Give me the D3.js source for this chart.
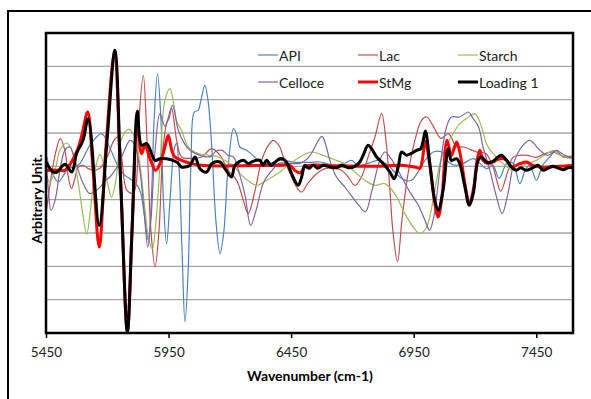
<!DOCTYPE html>
<html>
<head>
<meta charset="utf-8">
<script src="https://cdn.jsdelivr.net/npm/d3@7"></script>
<style>
  html, body { margin: 0; padding: 0; background: #fff; }
  svg { display: block; font-family: Lato, "Open Sans", sans-serif; }
</style>
</head>
<body>
<div id="chart"></div>
<script>
// x ticks (wavenumber) and y gridlines (arbitrary units)
const xTicks = [5450, 5950, 6450, 6950, 7450];
const yGrid = [-4, -3, -2, -1, 0, 1, 2, 3];

// series: [wavenumber, value]
const api = [[5450,0.38],[5466,-0.06],[5487,-0.36],[5500,-0.47],[5519,-0.3],[5540,-0.06],[5568,-0.03],[5589,0.09],[5629,0.63],[5677,0.98],[5711,0.54],[5745,-0.02],[5772,-0.27],[5801,-0.42],[5825,-0.6],[5837,-0.81],[5854,-1.62],[5867,-2.22],[5878,-1.32],[5891,1.38],[5905,2.78],[5919,1.38],[5929,-1.02],[5942,-2.32],[5956,-1.02],[5972,0.48],[5982,0.69],[5992,0.03],[6005,-2.52],[6017,-4.67],[6030,-3.12],[6042,0.18],[6055,1.63],[6071,1.68],[6082,1.98],[6098,2.43],[6111,1.98],[6127,0.48],[6143,-1.62],[6160,-2.62],[6176,-1.92],[6192,-0.12],[6215,1.13],[6229,0.93],[6241,0.58],[6268,0.48],[6294,0.33],[6323,0.13],[6363,0.09],[6404,0.18],[6469,0.12],[6527,0.12],[6567,0.13],[6629,0.03],[6669,0.09],[6697,0.18],[6722,0.03],[6763,0.09],[6805,0.18],[6846,0.03],[6877,-0.21],[6914,-0.42],[6941,-0.42],[6967,-0.18],[6996,0.18],[7030,0.43],[7064,0.43],[7092,0.13],[7122,0.03],[7153,0.09],[7193,0.23],[7220,0.09],[7247,-0.07],[7273,0.03],[7299,-0.36],[7329,0.08],[7355,0.09],[7383,-0.52],[7408,-0.06],[7424,0.03],[7451,-0.42],[7476,0.03],[7505,0.28],[7532,0.48],[7558,0.28],[7599,0.28]];

const lac = [[5450,-1.42],[5466,-0.57],[5487,0.33],[5508,0.83],[5527,0.48],[5540,-0.27],[5554,-0.67],[5568,-0.36],[5582,-0.02],[5601,0.03],[5621,-0.06],[5646,-0.12],[5670,-0.06],[5703,0.33],[5727,0.78],[5745,0.88],[5760,0.18],[5780,-0.72],[5805,-0.81],[5817,-0.57],[5829,1.38],[5847,2.73],[5862,0.78],[5878,-1.92],[5895,-3.02],[5911,-1.92],[5927,0.48],[5942,1.28],[5952,1.44],[5963,1.73],[5983,0.78],[6003,0.28],[6037,0.24],[6085,0.28],[6126,0.53],[6160,0.33],[6193,-0.12],[6228,-0.42],[6255,-1.02],[6275,-1.42],[6303,-0.72],[6330,0.18],[6357,0.63],[6377,0.78],[6404,0.58],[6418,0.28],[6445,-0.21],[6472,-0.62],[6493,-0.77],[6518,-0.51],[6554,-0.22],[6592,-0.06],[6629,-0.06],[6656,-0.12],[6683,-0.32],[6710,-0.57],[6737,-0.32],[6764,0.28],[6792,0.88],[6819,1.58],[6837,0.78],[6853,-0.72],[6865,-1.92],[6884,-2.87],[6902,-1.62],[6927,-0.22],[6955,0.78],[6982,1.38],[7003,1.48],[7028,1.23],[7061,0.84],[7092,0.98],[7125,0.58],[7153,0.58],[7207,0.43],[7245,0.38],[7274,-0.02],[7289,-0.42],[7305,-0.75],[7333,-0.18],[7355,0.27],[7383,0.33],[7414,0.33],[7448,0.27],[7485,0.38],[7519,0.43],[7558,0.3],[7599,0.24]];

const starch = [[5450,-0.22],[5466,-0.47],[5487,-0.12],[5507,0.48],[5534,0.7],[5556,0.48],[5580,-0.42],[5601,-1.47],[5616,-2.04],[5629,-1.47],[5650,-0.12],[5670,0.36],[5687,0.03],[5703,-0.57],[5717,-0.93],[5735,-0.42],[5756,0.78],[5786,1.11],[5805,0.99],[5821,0.63],[5839,-0.27],[5854,-1.32],[5870,-2.22],[5884,-2.47],[5899,-1.62],[5915,0.03],[5935,1.98],[5956,2.33],[5972,1.83],[5984,1.33],[6003,1.08],[6030,0.58],[6071,0.38],[6119,0.33],[6153,0.28],[6193,0.12],[6221,-0.03],[6241,-0.22],[6282,-0.47],[6309,-0.57],[6350,-0.42],[6404,-0.17],[6445,0.08],[6486,0.28],[6533,0.43],[6580,0.33],[6635,0.18],[6669,0.08],[6710,-0.17],[6751,-0.42],[6792,-0.57],[6832,-0.52],[6873,-0.82],[6914,-1.42],[6948,-1.82],[6975,-2.02],[7003,-1.82],[7036,-0.72],[7057,0.08],[7084,0.63],[7111,0.98],[7138,1.28],[7166,1.44],[7200,1.58],[7227,1.18],[7247,0.68],[7273,0.39],[7315,0.08],[7355,-0.12],[7395,0.03],[7451,0.18],[7492,0.38],[7526,0.48],[7558,0.28],[7599,0.33]];

const celloce = [[5450,0.18],[5460,-0.72],[5470,-1.32],[5487,-1.02],[5507,-0.12],[5527,0.48],[5547,0.58],[5568,0.18],[5602,-0.52],[5629,-0.82],[5670,-0.63],[5693,-0.42],[5711,-0.32],[5744,0.03],[5770,0.48],[5793,0.78],[5813,0.63],[5833,-0.12],[5850,-1.32],[5865,-2.42],[5878,-1.62],[5895,0.48],[5915,1.58],[5935,1.2],[5948,1.44],[5966,1.83],[5990,1.08],[6015,0.68],[6037,0.48],[6062,0.38],[6090,0.3],[6123,0.3],[6143,0.45],[6169,0.48],[6192,0.33],[6215,0.28],[6241,-0.27],[6262,-0.87],[6285,-1.77],[6307,-1.32],[6338,-0.48],[6372,-0.12],[6400,0.09],[6445,0.09],[6486,0.09],[6518,0.24],[6540,0.48],[6559,0.75],[6576,0.9],[6592,0.63],[6608,0.18],[6635,-0.32],[6669,-0.62],[6710,-1.02],[6730,-1.2],[6753,-1.37],[6780,-0.72],[6812,0.18],[6832,0.43],[6857,0.24],[6901,-0.32],[6935,-0.78],[6969,-1.17],[6996,-1.62],[7015,-1.92],[7033,-1.47],[7049,-0.57],[7061,0.18],[7084,1.18],[7104,1.48],[7138,1.48],[7173,1.63],[7192,1.44],[7215,1.18],[7233,0.58],[7261,-0.12],[7288,-0.92],[7311,-1.42],[7333,-0.87],[7362,0.18],[7396,0.63],[7424,0.78],[7465,0.48],[7497,0.33],[7532,0.48],[7566,0.33],[7599,0.28]];

const stmg = [[5450,-0.12],[5466,-0.12],[5507,-0.12],[5527,-0.12],[5575,0.43],[5596,0.93],[5620,1.63],[5642,-0.12],[5667,-2.42],[5695,0.63],[5729,3.35],[5756,-0.72],[5782,-4.97],[5801,-1.92],[5823,1.14],[5840,0.38],[5854,0.63],[5874,0.24],[5897,-0.12],[5915,0.08],[5935,0.58],[5949,0.93],[5963,0.48],[5976,0.28],[6003,0.18],[6044,0.08],[6085,0.03],[6160,0.01],[6250,0.02],[6400,0.03],[6445,0.03],[6465,-0.12],[6486,-0.2],[6506,-0.02],[6527,0.03],[6650,0.01],[6800,0],[6900,0.03],[6959,-0.03],[6975,-0.06],[6985,0.18],[6997,0.75],[7016,0.03],[7036,-1.1],[7050,-1.52],[7066,-0.87],[7086,0.78],[7104,0.33],[7125,0.73],[7138,0.43],[7159,-0.52],[7177,-1.12],[7193,-0.72],[7209,0.18],[7220,0.48],[7233,0.18],[7254,0.08],[7273,0.13],[7301,0.23],[7329,0.18],[7349,-0.02],[7383,0.08],[7410,0.13],[7436,0.03],[7465,-0.02],[7505,-0.02],[7546,0],[7599,0.03]];

const loading1 = [[5450,0.13],[5479,-0.17],[5495,-0.17],[5527,0.06],[5555,-0.17],[5575,0.39],[5601,0.78],[5622,1.43],[5667,-1.77],[5699,0.78],[5731,3.48],[5756,-0.72],[5782,-4.97],[5801,-1.92],[5823,1.65],[5840,0.63],[5861,0.68],[5895,0.18],[5915,0.23],[5942,0.23],[5983,0.13],[6003,-0.02],[6017,-0.02],[6037,0.03],[6058,0.28],[6078,-0.07],[6105,-0.17],[6126,0.08],[6160,0.13],[6180,-0.07],[6207,-0.32],[6221,0.03],[6255,0.18],[6275,0.08],[6294,0.15],[6323,0.18],[6335,0.03],[6350,0.18],[6368,0.03],[6384,0.12],[6404,0.23],[6425,0.18],[6438,0.03],[6458,-0.32],[6479,-0.57],[6493,-0.32],[6506,0.03],[6522,-0.06],[6540,0.03],[6559,-0.06],[6581,0.03],[6608,-0.02],[6635,-0.04],[6657,0.03],[6683,-0.04],[6710,0],[6730,0.13],[6744,0.33],[6764,0.63],[6778,0.53],[6799,0.28],[6826,0.08],[6853,-0.17],[6870,-0.37],[6887,-0.02],[6901,0.43],[6921,0.33],[6941,0.39],[6962,0.48],[6979,0.53],[6989,0.78],[6998,1.06],[7016,0.08],[7036,-1.02],[7050,-1.32],[7070,-0.72],[7091,0.53],[7104,0.18],[7125,0.23],[7138,0.08],[7159,-0.62],[7177,-1.17],[7193,-0.82],[7213,0.18],[7227,0.28],[7247,0.13],[7269,0.13],[7294,0.28],[7308,0.33],[7329,0.18],[7349,-0.02],[7369,-0.12],[7387,-0.04],[7407,-0.12],[7437,-0.04],[7458,0.03],[7478,-0.12],[7497,-0.06],[7519,0],[7539,-0.05],[7560,-0.1],[7580,-0.04],[7599,-0.04]];

const seriesNames = ['API', 'Lac', 'Starch', 'Celloce', 'StMg', 'Loading 1'];
const seriesData = [api, lac, starch, celloce, stmg, loading1];
const colors = ['#4F81BD', '#C0504D', '#9BBB59', '#8064A2', '#FF0000', '#000000'];
const widths = [1.2, 1.2, 1.2, 1.2, 3, 3];

const width = 591, height = 399;
const plot = { left: 46, right: 573, top: 33, bottom: 333 };

const svg = d3.select('#chart')
  .append('svg')
  .attr('width', width)
  .attr('height', height);

// outer chart frame
svg.append('rect')
  .attr('x', 8).attr('y', 11)
  .attr('width', 620).attr('height', 420)
  .attr('fill', 'none')
  .attr('stroke', '#000')
  .attr('stroke-width', 2);

const x = d3.scaleLinear().domain([5450, 7600]).range([plot.left, plot.right]);
const y = d3.scaleLinear().domain([-5, 4]).range([plot.bottom, plot.top]);

// gridlines
svg.append('g')
  .selectAll('line')
  .data(yGrid)
  .enter()
  .append('line')
  .attr('x1', plot.left).attr('x2', plot.right)
  .attr('y1', d => y(d)).attr('y2', d => y(d))
  .attr('stroke', '#a6a6a6')
  .attr('stroke-width', 1.3);

svg.append('defs').append('clipPath')
  .attr('id', 'clip')
  .append('rect')
  .attr('x', plot.left).attr('y', plot.top)
  .attr('width', plot.right - plot.left)
  .attr('height', plot.bottom - plot.top);

const line = d3.line()
  .x(d => x(d[0]))
  .y(d => y(d[1]))
  .curve(d3.curveCatmullRom.alpha(0.5));

const lines = svg.append('g').attr('clip-path', 'url(#clip)');
seriesData.forEach((s, i) => {
  lines.append('path')
    .datum(s)
    .attr('d', line)
    .attr('fill', 'none')
    .attr('stroke', colors[i])
    .attr('stroke-width', widths[i])
    .attr('stroke-linejoin', 'round');
});

// plot border
svg.append('rect')
  .attr('x', plot.left).attr('y', plot.top)
  .attr('width', plot.right - plot.left)
  .attr('height', plot.bottom - plot.top)
  .attr('fill', 'none')
  .attr('stroke', '#000')
  .attr('stroke-width', 2.5);

// x axis
const xAxis = d3.axisBottom(x)
  .tickValues(xTicks)
  .tickSize(5)
  .tickSizeOuter(0)
  .tickPadding(9)
  .tickFormat(d3.format('d'));

const gx = svg.append('g')
  .attr('transform', `translate(0,${plot.bottom})`)
  .call(xAxis);
gx.select('.domain').remove();
gx.selectAll('.tick line').attr('stroke', '#000').attr('stroke-width', 1.5);
gx.selectAll('.tick text')
  .attr('fill', '#222')
  .style('font-size', '13.5px')
  .style('font-family', 'Lato, sans-serif');

// axis titles
svg.append('text')
  .attr('x', 310).attr('y', 381)
  .attr('text-anchor', 'middle')
  .style('font-size', '14px')
  .style('font-weight', 'bold')
  .text('Wavenumber (cm-1)');

svg.append('text')
  .attr('transform', 'translate(36,199) rotate(-90)')
  .attr('text-anchor', 'middle')
  .attr('dominant-baseline', 'central')
  .style('font-size', '14px')
  .style('font-weight', 'bold')
  .text('Arbitrary Unit.');

// legend
const legend = svg.append('g');
seriesNames.forEach((name, i) => {
  const col = i % 3, row = Math.floor(i / 3);
  const lx = 258 + col * 100, ly = 55 + row * 27;
  legend.append('line')
    .attr('x1', lx).attr('x2', lx + 20)
    .attr('y1', ly).attr('y2', ly)
    .attr('stroke', colors[i])
    .attr('stroke-width', widths[i]);
  legend.append('text')
    .attr('x', lx + 21).attr('y', ly)
    .attr('dominant-baseline', 'central')
    .style('font-size', '14px')
    .attr('fill', '#222')
    .text(name);
});
</script>
</body>
</html>
